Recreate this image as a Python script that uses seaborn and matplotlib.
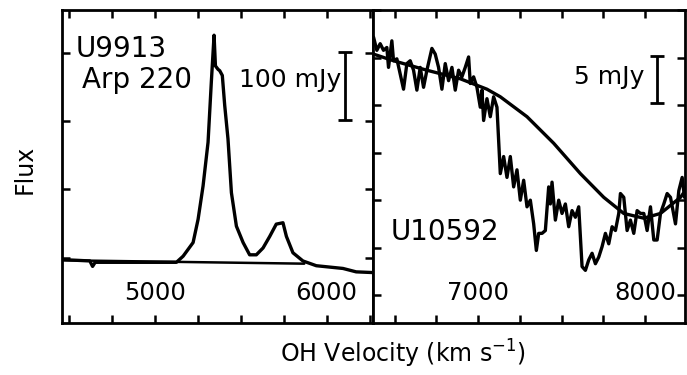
import numpy as np
import pandas as pd
import matplotlib
matplotlib.use("Agg")
import matplotlib.pyplot as plt
import seaborn as sns
from matplotlib.ticker import MultipleLocator

# ---------------- data ----------------
# Left panel: U9913 / Arp 220 (velocity km/s, flux mJy)
arp_v = [4459, 4622, 4638, 4653, 4777, 4971, 5126, 5165, 5223, 5252, 5281, 5310,
         5329, 5345, 5353, 5368, 5378, 5393, 5407, 5426, 5446, 5475, 5514, 5552,
         5591, 5630, 5669, 5707, 5746, 5766, 5804, 5862, 5940, 6095, 6172, 6266]
arp_f = [-3, -5, -13, -7, -7, -7, -7, 2, 22, 56, 105, 169,
         257, 326, 281, 276, 274, 267, 223, 174, 95, 46, 22, 4,
         4, 14, 31, 49, 51, 31, 7, -5, -12, -16, -21, -22]
arp_base_v = [4459, 5870]
arp_base_f = [-4, -9]

# Right panel: U10592
u_v = [6373, 6393, 6413, 6433, 6453, 6463, 6483, 6493, 6513, 6533, 6553, 6573,
       6593, 6613, 6633, 6653, 6673, 6693, 6723, 6743, 6763, 6783, 6803, 6823,
       6843, 6863, 6883, 6903, 6923, 6943, 6953, 6973, 6993, 7013, 7023, 7033,
       7053, 7073, 7093, 7113, 7133, 7153, 7173, 7193, 7213, 7233, 7253, 7273,
       7293, 7313, 7333, 7349, 7363, 7383, 7403, 7423, 7433, 7443, 7463, 7483,
       7503, 7523, 7543, 7563, 7583, 7603, 7623, 7643, 7663, 7683, 7703, 7723,
       7743, 7763, 7783, 7803, 7823, 7843, 7853, 7873, 7893, 7913, 7933, 7953,
       7973, 7993, 8013, 8033, 8053, 8073, 8093, 8113, 8133, 8153, 8183, 8203,
       8223, 8237]
u_f = [27.2, 25.8, 26.5, 25.8, 26.1, 24.0, 26.8, 24.7, 24.9, 23.3, 21.7, 24.4,
       24.7, 23.7, 21.6, 24.0, 21.9, 23.7, 26.0, 25.4, 24.0, 21.7, 24.4, 22.6,
       24.0, 21.6, 23.7, 23.0, 24.0, 25.1, 22.3, 23.0, 21.9, 19.8, 21.6, 18.4,
       20.7, 18.8, 20.9, 19.8, 12.8, 14.6, 12.4, 14.6, 11.4, 13.2, 10.0, 12.1,
       9.3, 10.0, 7.5, 4.7, 6.5, 6.5, 6.8, 11.4, 9.6, 11.9, 7.9, 10.0,
       8.6, 9.6, 7.2, 8.9, 8.2, 9.3, 3.0, 2.6, 3.7, 4.4, 3.3, 4.0,
       5.1, 6.5, 5.4, 7.2, 6.8, 8.6, 10.7, 10.3, 6.8, 7.9, 6.5, 8.9,
       8.6, 8.6, 6.8, 9.3, 5.8, 5.8, 8.6, 9.6, 10.7, 10.3, 7.5, 11.0,
       12.4, 10.3]
u_base_v = [6373, 6493, 6693, 6893, 7053, 7133, 7293, 7453, 7613, 7753, 7873,
            7993, 8093, 8213, 8237]
u_base_f = [25.4, 24.7, 23.7, 22.8, 21.7, 20.9, 18.8, 16.0, 12.8, 10.3, 8.6,
            8.1, 8.6, 10.3, 10.9]

left_ticklabels = [5000, 6000]
right_ticklabels = [7000, 8000]
scale_left = 100   # mJy
scale_right = 5    # mJy

# ---------------- style ----------------
sns.set_style("ticks")
plt.rcParams["font.family"] = ["DejaVu Sans"]
plt.rcParams["axes.linewidth"] = 2.0
plt.rcParams["text.color"] = "black"
plt.rcParams["xtick.color"] = "black"
plt.rcParams["ytick.color"] = "black"
plt.rcParams["xtick.labelcolor"] = "black"
plt.rcParams["axes.edgecolor"] = "black"

fig = plt.figure(figsize=(6.87, 3.75), dpi=100)
axL = fig.add_axes([62 / 687, 52 / 375, 311 / 687, 313 / 375])
axR = fig.add_axes([373 / 687, 52 / 375, 312 / 687, 313 / 375])

lw = 2.4
sns.lineplot(x=arp_base_v, y=arp_base_f, ax=axL, color="black", lw=1.8,
             sort=False, estimator=None)
sns.lineplot(x=arp_v, y=arp_f, ax=axL, color="black", lw=lw,
             sort=False, estimator=None)
sns.lineplot(x=u_base_v, y=u_base_f, ax=axR, color="black", lw=lw,
             sort=False, estimator=None)
sns.lineplot(x=u_v, y=u_f, ax=axR, color="black", lw=lw,
             sort=False, estimator=None)

axL.set_xlim(4460, 6270)
axL.set_ylim(-96, 363)
axR.set_xlim(6370, 8240)
axR.set_ylim(-2.95, 30.05)

for ax, labs, ystep in [(axL, left_ticklabels, 100), (axR, right_ticklabels, 5)]:
    ax.set_xticks(labs)
    ax.set_xticklabels([str(v) for v in labs], color="black")
    ax.xaxis.set_minor_locator(MultipleLocator(250))
    ax.yaxis.set_major_locator(MultipleLocator(ystep))
    ax.set_yticklabels([])
    ax.tick_params(which="both", direction="in", top=True, right=True,
                   left=True, bottom=True, length=6, width=1.8, color="black")
    ax.tick_params(axis="x", which="major", pad=-30, labelsize=17.5,
                   labelcolor="black")
    ax.tick_params(axis="y", labelleft=False)
    ax.set_xlabel("")
    ax.set_ylabel("")
    for s in ax.spines.values():
        s.set_visible(True)
        s.set_color("black")
        s.set_linewidth(2.0)

# scale bars
axL.errorbar([6105], [252], yerr=[scale_left / 2], color="black", lw=2,
             capsize=5, capthick=2)
axR.errorbar([8073], [22.7], yerr=[scale_right / 2], color="black", lw=2,
             capsize=5, capthick=2)

# annotations
axL.text(0.045, 0.875, "U9913", transform=axL.transAxes, fontsize=20,
         va="center", ha="left", color="black")
axL.text(0.065, 0.775, "Arp 220", transform=axL.transAxes, fontsize=20,
         va="center", ha="left", color="black")
axL.text(0.57, 0.775, "100 mJy", transform=axL.transAxes, fontsize=18,
         va="center", ha="left", color="black")
axR.text(0.645, 0.785, "5 mJy", transform=axR.transAxes, fontsize=18,
         va="center", ha="left", color="black")
axR.text(0.055, 0.29, "U10592", transform=axR.transAxes, fontsize=20,
         va="center", ha="left", color="black")

fig.text(25 / 687, 1 - 169 / 375, "Flux", rotation=90, fontsize=17,
         ha="center", va="center", color="black")
fig.text(403 / 687, 1 - 354 / 375, "OH Velocity (km s$^{-1}$)", fontsize=17,
         ha="center", va="center", color="black")

fig.savefig("out.png", dpi=100)
